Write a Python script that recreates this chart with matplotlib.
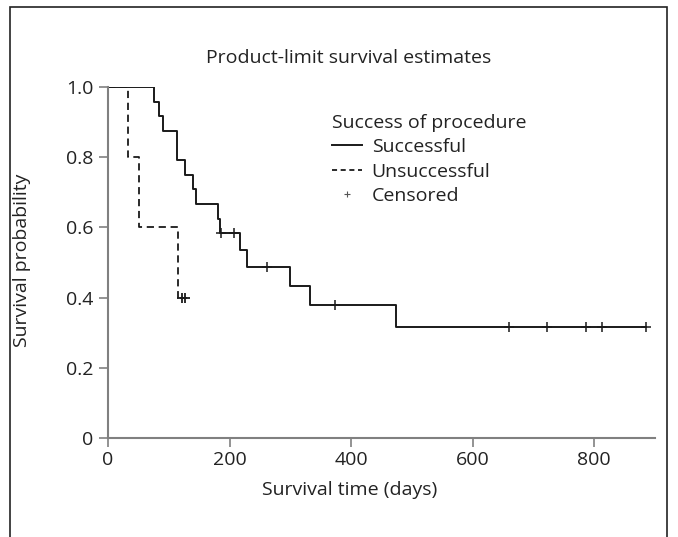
import numpy as np
import matplotlib
matplotlib.use("Agg")
import matplotlib.pyplot as plt
from matplotlib.lines import Line2D
from matplotlib.patches import Rectangle

plt.rcParams["font.family"] = ["Open Sans", "DejaVu Sans"]

# -----------------------------------
# Data (Kaplan-Meier steps)
# -----------------------------------
succ_time = [0, 76, 84, 90, 113, 126, 140, 145, 181, 184, 217, 229, 299, 332, 474, 886]
succ_surv = [1.0, 0.958, 0.917, 0.875, 0.792, 0.75, 0.708, 0.667, 0.625, 0.583,
             0.535, 0.486, 0.432, 0.378, 0.315, 0.315]
succ_cens_time = [186, 207, 262, 373, 660, 723, 786, 813, 886]
succ_cens_surv = [0.583, 0.583, 0.486, 0.378, 0.315, 0.315, 0.315, 0.315, 0.315]

unsucc_time = [0, 33, 51, 115, 126]
unsucc_surv = [1.0, 0.8, 0.6, 0.4, 0.4]
unsucc_cens_time = [122, 126]
unsucc_cens_surv = [0.4, 0.4]

x_ticks = [0, 200, 400, 600, 800]
y_ticks = [0, 0.2, 0.4, 0.6, 0.8, 1.0]
y_tick_labels = ["0", "0.2", "0.4", "0.6", "0.8", "1.0"]

FS = 14
TXT = "#222222"

# -----------------------------------
# Figure
# -----------------------------------
fig = plt.figure(figsize=(6.78, 5.37), dpi=100)
ax = fig.add_axes([108 / 678, 1 - 438 / 537, 547 / 678, 351 / 537])

# outer frame (open at the bottom)
fig.patches.append(Rectangle((10 / 678, -0.05), 657 / 678, 1.05 - 7 / 537,
                             transform=fig.transFigure, fill=False,
                             edgecolor="#222222", linewidth=1.2))

ax.plot(succ_time, succ_surv, drawstyle="steps-post", color="#1a1a1a", lw=1.4)
ax.plot(unsucc_time, unsucc_surv, drawstyle="steps-post", color="#1a1a1a", lw=1.3,
        linestyle=(0, (4, 2.6)))
ax.plot(succ_cens_time, succ_cens_surv, "+", color="#1a1a1a", ms=7, mew=1.1)
ax.plot(unsucc_cens_time, unsucc_cens_surv, "+", color="#1a1a1a", ms=7, mew=1.3)

ax.set_xlim(0, 900)
ax.set_ylim(0, 1.0)
ax.set_xticks(x_ticks)
ax.set_yticks(y_ticks)
ax.set_yticklabels(y_tick_labels)
ax.tick_params(direction="out", length=6.5, width=1.2, color="#808080",
               labelsize=FS, labelcolor=TXT)
ax.tick_params(axis="y", pad=4)
ax.tick_params(axis="x", pad=3)
for side in ["top", "right"]:
    ax.spines[side].set_visible(False)
for side in ["left", "bottom"]:
    ax.spines[side].set_color("#808080")
    ax.spines[side].set_linewidth(1.5)
ax.patch.set_alpha(0)

fig.text(349 / 678, 1 - 58 / 537, "Product-limit survival estimates",
         ha="center", va="center", fontsize=FS, color=TXT)
fig.text(350 / 678, 1 - 490 / 537, "Survival time (days)",
         ha="center", va="center", fontsize=FS, color=TXT)
fig.text(22 / 678, 1 - 260 / 537, "Survival probability", rotation=90,
         ha="center", va="center", fontsize=FS, color=TXT)

handles = [
    Line2D([], [], color="#1a1a1a", lw=1.4),
    Line2D([], [], color="#1a1a1a", lw=1.3, linestyle=(0, (2.8, 2.0))),
    Line2D([], [], color="#555555", marker="+", linestyle="none", ms=5, mew=0.8),
]
leg = ax.legend(handles, ["Successful", "Unsuccessful", "Censored"],
                title="Success of procedure", loc="upper left",
                bbox_to_anchor=(323 / 678, 1 - 105 / 537),
                bbox_transform=fig.transFigure, frameon=False,
                fontsize=FS, title_fontsize=FS, alignment="left",
                handlelength=1.55, handletextpad=0.5, labelspacing=0.33,
                borderpad=0.45, borderaxespad=0)
for t in leg.get_texts():
    t.set_color(TXT)
leg.get_title().set_color(TXT)

fig.savefig("out.png", dpi=100)
